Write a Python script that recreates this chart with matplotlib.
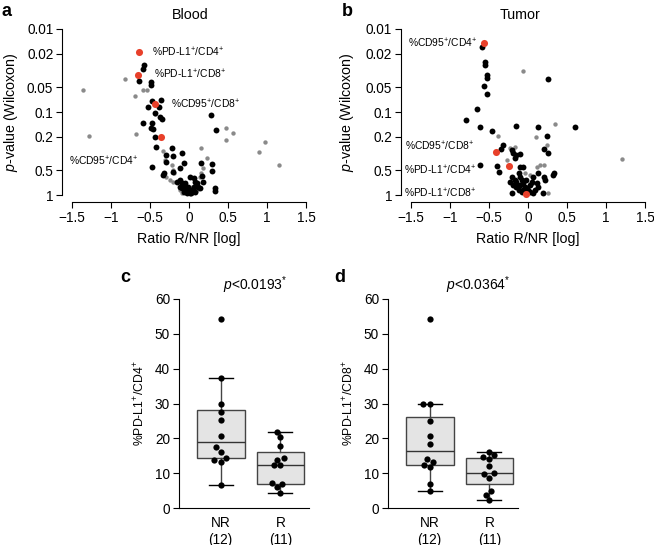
import matplotlib
matplotlib.use('Agg')
import matplotlib.pyplot as plt
import seaborn as sns

plt.rcParams['font.family'] = ['Liberation Sans', 'DejaVu Sans']
plt.rcParams['mathtext.fontset'] = 'custom'
plt.rcParams['mathtext.rm'] = 'Liberation Sans'
plt.rcParams['mathtext.it'] = 'Liberation Sans:italic'
plt.rcParams['axes.linewidth'] = 0.8

# ---- panel a: Blood (ratio R/NR, p-value) ----
blood_black_x = [-0.58, -0.59, -0.64, -0.49, -0.49, -0.47, -0.52, -0.36, -0.39, -0.43,
                 -0.37, -0.34, -0.59, -0.47, -0.49, -0.46, -0.44, -0.42, -0.22, -0.30,
                 -0.20, -0.09, -0.47, -0.29, -0.07, -0.32, -0.33, -0.20, -0.12, 0.28,
                 0.34, 0.15, 0.30, 0.30, 0.17, 0.18, 0.33, 0.33,
                 -0.12, -0.09, -0.08, -0.06, -0.05, -0.03, -0.01, 0.01, 0.03, -0.03,
                 -0.07, -0.09, 0.01, 0.06, 0.08, 0.10, 0.12, 0.14, 0.06, 0.03,
                 -0.05, -0.01, 0.08, -0.12, -0.16]
blood_black_p = [0.027, 0.030, 0.042, 0.043, 0.047, 0.074, 0.088, 0.072, 0.088, 0.104,
                 0.116, 0.122, 0.134, 0.134, 0.155, 0.162, 0.198, 0.262, 0.274, 0.330,
                 0.339, 0.315, 0.456, 0.397, 0.415, 0.538, 0.580, 0.524, 0.477, 0.109,
                 0.165, 0.415, 0.427, 0.509, 0.590, 0.690, 0.83, 0.887,
                 0.659, 0.71, 0.758, 0.794, 0.832, 0.871, 0.912, 0.938, 0.955, 0.955,
                 0.912, 0.832, 0.601, 0.63, 0.69, 0.72, 0.794, 0.832, 0.794, 0.871,
                 0.72, 0.794, 0.912, 0.794, 0.69]
blood_grey_x = [-0.82, -1.36, -0.69, -0.59, -0.54, -1.28, -0.68, -0.44, 0.47, 0.56,
                0.48, 0.97, 0.90, 1.15, 0.15, 0.23, 0.18, -0.33, -0.31, -0.22,
                -0.20, -0.19, -0.29, -0.24, -0.20, -0.14, -0.12, -0.09, 0.14, 0.16,
                0.10, 0.04]
blood_grey_p = [0.040, 0.054, 0.065, 0.055, 0.055, 0.193, 0.184, 0.106, 0.155, 0.177,
                0.217, 0.228, 0.306, 0.435, 0.272, 0.362, 0.477, 0.292, 0.379, 0.435,
                0.50, 0.55, 0.60, 0.66, 0.69, 0.69, 0.87, 0.955, 0.60, 0.55,
                0.87, 0.79]
blood_red_x = [-0.64, -0.65, -0.44, -0.36]
blood_red_p = [0.019, 0.036, 0.080, 0.20]
blood_labels = ['%PD-L1$^{+}$/CD4$^{+}$', '%PD-L1$^{+}$/CD8$^{+}$',
                '%CD95$^{+}$/CD8$^{+}$', '%CD95$^{+}$/CD4$^{+}$']
blood_label_x = [-0.47, -0.45, -0.23, -1.54]
blood_label_p = [0.019, 0.035, 0.080, 0.39]

# ---- panel b: Tumor ----
tumor_black_x = [-0.59, -0.55, -0.55, -0.52, -0.52, -0.57, -0.52, -0.65, -0.79, -0.61,
                 -0.46, -0.16, 0.13, 0.25, 0.60, 0.24, 0.20, 0.25, -0.32, -0.35,
                 -0.21, -0.19, -0.15, -0.10, -0.17, -0.61, -0.40, -0.37, -0.10, -0.07,
                 0.13, 0.20, 0.22, 0.33, 0.32, -0.21, 0.07, 0.19,
                 -0.21, -0.17, -0.15, -0.12, -0.10, -0.08, -0.06, -0.04, -0.02, 0.00,
                 0.03, -0.15, -0.19, -0.12, -0.08, 0.05, 0.07, 0.11, 0.13, -0.10,
                 -0.02, 0.03, -0.06, 0.09, -0.23]
tumor_black_p = [0.0163, 0.025, 0.027, 0.036, 0.039, 0.049, 0.061, 0.091, 0.125, 0.150,
                 0.168, 0.146, 0.152, 0.040, 0.150, 0.195, 0.282, 0.315, 0.25, 0.28,
                 0.287, 0.315, 0.330, 0.321, 0.361, 0.43, 0.444, 0.524, 0.456, 0.456,
                 0.548, 0.601, 0.659, 0.548, 0.574, 0.94, 0.94, 0.94,
                 0.60, 0.66, 0.69, 0.55, 0.60, 0.66, 0.72, 0.79, 0.83, 0.87,
                 0.91, 0.79, 0.76, 0.87, 0.91, 0.69, 0.60, 0.72, 0.79, 0.76,
                 0.66, 0.76, 0.87, 0.87, 0.69]
tumor_grey_x = [-0.07, 0.35, 0.10, 0.24, 1.21, -0.39, -0.23, -0.17, 0.15, 0.11,
                0.20, -0.04, 0.03, 0.07, 0.26, -0.27]
tumor_grey_p = [0.032, 0.140, 0.198, 0.250, 0.372, 0.195, 0.274, 0.267, 0.435, 0.456,
                0.435, 0.548, 0.574, 0.72, 0.94, 0.38]
tumor_red_x = [-0.57, -0.41, -0.24, -0.03]
tumor_red_p = [0.0146, 0.306, 0.448, 0.98]
tumor_labels = ['%CD95$^{+}$/CD4$^{+}$', '%CD95$^{+}$/CD8$^{+}$',
                '%PD-L1$^{+}$/CD4$^{+}$', '%PD-L1$^{+}$/CD8$^{+}$']
tumor_label_x = [-0.65, -0.69, -0.67, -0.67]
tumor_label_p = [0.0147, 0.257, 0.51, 0.946]

# ---- panels c, d: boxplots ----
groups = ['NR\n(12)', 'R\n(11)']
cd4_nr = [54.2, 37.2, 30.0, 27.6, 25.4, 20.6, 17.4, 16.1, 14.4, 13.7, 13.2, 6.5]
cd4_r = [21.9, 20.4, 17.8, 14.4, 13.9, 12.3, 12.3, 7.2, 6.8, 5.9, 4.4]
cd8_nr = [54.3, 30.0, 30.0, 24.9, 20.6, 18.4, 14.1, 13.3, 12.4, 11.7, 7.0, 4.9]
cd8_r = [16.2, 15.3, 14.5, 14.1, 12.2, 10.0, 9.8, 8.7, 4.9, 3.7, 2.2]

yticks_p = [0.01, 0.02, 0.05, 0.1, 0.2, 0.5, 1]
yticklabels_p = ['0.01', '0.02', '0.05', '0.1', '0.2', '0.5', '1']

W, H = 654, 545
fig = plt.figure(figsize=(W / 100, H / 100), dpi=100)


def px_axes(left, top, right, bottom):
    return fig.add_axes([left / W, 1 - bottom / H, (right - left) / W, (bottom - top) / H])


def volcano(ax, bx, bp, gx, gp, rx, rp, labels, lx, lp, ha, ylab_x):
    ax.scatter(gx, gp, s=10, color='#8a8a8a', lw=0, zorder=2, clip_on=False)
    ax.scatter(bx, bp, s=18, color='black', lw=0, zorder=3, clip_on=False)
    ax.scatter(rx, rp, s=26, color='#e8402a', lw=0, zorder=4, clip_on=False)
    for lab, x, p in zip(labels, lx, lp):
        ax.text(x, p, lab, fontsize=7.4, ha=ha, va='center')
    ax.set_yscale('log')
    ax.set_ylim(1, 0.01)
    ax.set_xlim(-1.5, 1.5)
    ax.set_yticks(yticks_p)
    ax.set_yticklabels(yticklabels_p)
    ax.minorticks_off()
    ax.set_xticks([-1.5, -1, -0.5, 0, 0.5, 1, 1.5])
    ax.set_xticklabels(['\u22121.5', '\u22121', '\u22120.5', '0', '0.5', '1', '1.5'])
    for s in ['top', 'right']:
        ax.spines[s].set_visible(False)
    ax.spines['left'].set_position(('outward', 7))
    ax.spines['bottom'].set_position(('outward', 5))
    ax.tick_params(labelsize=9.8, length=4.5, width=0.8, pad=2)
    ax.set_ylabel('$\\it{p}$-value (Wilcoxon)', fontsize=10.3)
    ax.yaxis.set_label_coords(ylab_x, 0.5)
    ax.set_xlabel('Ratio R/NR [log]', fontsize=10.3)
    ax.xaxis.set_label_coords(0.5, -0.22)


ax_a = px_axes(72, 29, 306, 195)
volcano(ax_a, blood_black_x, blood_black_p, blood_grey_x, blood_grey_p,
        blood_red_x, blood_red_p, blood_labels, blood_label_x, blood_label_p,
        'left', -0.224)
ax_b = px_axes(411, 29, 645, 195)
volcano(ax_b, tumor_black_x, tumor_black_p, tumor_grey_x, tumor_grey_p,
        tumor_red_x, tumor_red_p, tumor_labels, tumor_label_x, tumor_label_p,
        'right', -0.233)


def boxpanel(ax, nr, r, ylabel, ylab_x):
    ax.boxplot([nr, r], positions=[0, 1], widths=0.8, patch_artist=True,
               showfliers=False, capwidths=0.4,
               boxprops=dict(facecolor='#e4e4e4', edgecolor='#444444', lw=1),
               medianprops=dict(color='#333333', lw=1),
               whiskerprops=dict(color='#444444', lw=1),
               capprops=dict(color='black', lw=1), zorder=1)
    vals = nr + r
    cats = [groups[0]] * len(nr) + [groups[1]] * len(r)
    sns.swarmplot(x=cats, y=vals, ax=ax, color='black', size=4.5, zorder=3)
    ax.set_xlim(-0.7, 1.48)
    ax.set_ylim(0, 60)
    ax.set_yticks(range(0, 61, 10))
    ax.set_xticks([0, 1])
    ax.set_xticklabels(groups)
    for s in ['top', 'right']:
        ax.spines[s].set_visible(False)
    ax.tick_params(axis='y', labelsize=9.8, length=4.5, width=0.8, pad=2)
    ax.tick_params(axis='x', labelsize=9.8, length=0, pad=6)
    ax.set_ylabel(ylabel, fontsize=8.8)
    ax.yaxis.set_label_coords(ylab_x, 0.5)


ax_c = px_axes(179, 299, 309, 508)
boxpanel(ax_c, cd4_nr, cd4_r, '%PD-L1$^{+}$/CD4$^{+}$', -0.246)
ax_d = px_axes(388, 299, 518, 508)
boxpanel(ax_d, cd8_nr, cd8_r, '%PD-L1$^{+}$/CD8$^{+}$', -0.242)

# titles and panel letters
fig.text(190 / W, 1 - 15 / H, 'Blood', fontsize=10.3, ha='center', va='center')
fig.text(520 / W, 1 - 15 / H, 'Tumor', fontsize=10.3, ha='center', va='center')
fig.text(255 / W, 1 - 285 / H, '$\\it{p}$<0.0193$^{*}$', fontsize=10, ha='center', va='center')
fig.text(478 / W, 1 - 285 / H, '$\\it{p}$<0.0364$^{*}$', fontsize=10, ha='center', va='center')
for letter, x, y in [('a', 7, 12), ('b', 347, 12), ('c', 125, 278), ('d', 340, 278)]:
    fig.text(x / W, 1 - y / H, letter, fontsize=13, fontweight='bold', ha='center', va='center')

fig.savefig('out.png', dpi=100)
